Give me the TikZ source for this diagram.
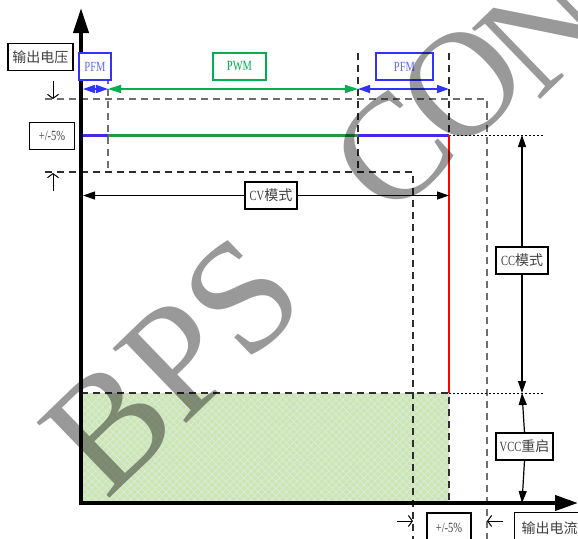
\documentclass[tikz,border=0pt]{standalone}
\usepackage{fontspec}
\setmainfont[FakeStretch=0.75]{Liberation Serif}
\newfontfamily\cjk{Noto Sans CJK SC}
\newfontfamily\wmfont{Liberation Serif}
\usetikzlibrary{arrows.meta,patterns.meta}
\definecolor{pfmblue}{RGB}{50,50,255}
\definecolor{lineblue}{RGB}{70,40,230}
\definecolor{pwmgreen}{RGB}{0,176,80}
\definecolor{linegreen}{RGB}{40,150,60}
\definecolor{hatchbg}{RGB}{204,230,178}
\definecolor{hatchln}{RGB}{220,234,222}
\definecolor{dashgrey}{RGB}{110,110,110}
\definecolor{dashdark}{RGB}{45,45,45}
\tikzset{
  lbl/.style={draw, line width=1.2pt, fill=white, inner sep=0pt, minimum height=27pt,
    text=black!75, font=\fontsize{14}{16}\selectfont},
  dashg/.style={dashgrey, line width=1.2pt, dash pattern=on 7pt off 5pt},
  dashk/.style={dashdark, line width=1.1pt, dash pattern=on 7pt off 5pt},
  dotk/.style={black, line width=0.8pt, dash pattern=on 2pt off 2pt},
  axis/.style={line width=4pt, {Triangle[length=25pt,width=15pt]}-{Triangle[length=23pt,width=15pt]}},
  barrow/.style={pfmblue, line width=1.5pt, {Triangle[length=12pt,width=8pt]}-{Triangle[length=12pt,width=8pt]}},
  garrow/.style={pwmgreen, line width=1.5pt, {Triangle[length=13pt,width=8pt]}-{Triangle[length=13pt,width=8pt]}},
  karrow/.style={black, line width=1.2pt, -{Triangle[length=12pt,width=8pt]}},
  tick/.style={black, line width=1pt, -{Straight Barb[length=4pt,width=11pt]}},
  wmark/.style={rotate=44, inner sep=0pt, text=black, opacity=0.4,
    font=\wmfont\fontsize{150}{150}\selectfont}
}
\begin{document}
\begin{tikzpicture}[x=1pt,y=-1pt]
  \useasboundingbox (0,0) rectangle (578,538);
  % 坐标点
  \coordinate (O) at (81,503);
  \coordinate (Y) at (81,8);
  \coordinate (X) at (578,503);
  \coordinate (A) at (449,135); % 恒压转恒流
  \coordinate (B) at (449,393); % 重启点
  \coordinate (R) at (81,393);
  % 绿色网格区域
  \fill[hatchbg] (O) rectangle (B);
  \fill[pattern={Lines[angle=45,distance=5pt,line width=0.7pt]}, pattern color=hatchln] (O) rectangle (B);
  \fill[pattern={Lines[angle=-45,distance=5pt,line width=0.7pt]}, pattern color=hatchln] (O) rectangle (B);
  \draw[dashk] (R) -- (B) -- (449,503);
  % 虚线
  \draw[dashg] (45,99) -- (487,99) -- (487,540);
  \draw[dashk] (45,172) -- (413,172) -- (413,540);
  \draw[dashg] (108,53) -- (108,172);
  \draw[dashk] (358,53) -- (358,172);
  \draw[dashk] (449,53) -- (A);
  \draw[dotk] (A) -- (543,135);
  \draw[dotk] (B) -- (543,393);
  % 输出特性
  \draw[lineblue, line width=3pt] (81,135) -- (108,135);
  \draw[linegreen, line width=3pt] (108,135) -- (358,135);
  \draw[lineblue, line width=3pt] (358,135) -- (A);
  \draw[red, line width=2.5pt] (A) -- (B);
  % 坐标轴
  \draw[axis] (Y) -- (O) -- (X);
  % 标注框
  \node[lbl, minimum width=65pt] (vout) at (40.5,57) {\cjk 输出电压};
  \node[lbl, minimum width=45pt] (tolv) at (52,136) {+/-5\%};
  \node[lbl, draw=pfmblue, text=pfmblue!75, minimum width=32pt] (pfmL) at (95,66.5) {PFM};
  \node[lbl, draw=pwmgreen, text=pwmgreen, minimum width=53pt] (pwm) at (239.5,66.5) {PWM};
  \node[lbl, draw=pfmblue, text=pfmblue!75, minimum width=57pt] (pfmR) at (404.5,66.5) {PFM};
  \node[lbl, minimum width=52pt] (cv) at (271,195.5) {CV{\cjk 模式}};
  \node[lbl, minimum width=52pt] (cc) at (522,260.5) {CC{\cjk 模式}};
  \node[lbl, minimum width=57pt] (vcc) at (524.5,446.5) {VCC{\cjk 重启}};
  \node[lbl, minimum width=44pt, minimum height=30pt] (toli) at (449,528) {+/-5\%};
  \node[lbl, minimum width=70pt, minimum height=32pt, anchor=north west] (iout) at (514,512) {\hspace*{6pt}\cjk 输出电流\hspace*{6pt}};
  % 模式箭头
  \coordinate (p0) at (83,89);
  \coordinate (p1) at (108,89);
  \coordinate (p2) at (358,89);
  \coordinate (p3) at (449,89);
  \draw[barrow] (p0) -- (p1);
  \draw[garrow] (p1) -- (p2);
  \draw[barrow] (p2) -- (p3);
  \draw[karrow] (cv.west) -- (83,195.5);
  \draw[karrow] (cv.east) -- (449,195.5);
  \draw[karrow] (cc.north) -- (522,135);
  \draw[karrow] (cc.south) -- (522,393);
  \draw[karrow] (vcc.north) -- (522,393);
  \draw[karrow] (vcc.south) -- (522,503);
  % 容差小箭头
  \draw[tick] (53,81) -- (53,99);
  \draw[tick] (53,191) -- (53,173);
  \draw[tick] (397,521) -- (413,521);
  \draw[tick] (503,521) -- (487,521);
  % 水印
  \begin{scope}
    \clip (0,0) rectangle (578,538);
    \node[wmark, anchor=base west, font=\wmfont\fontsize{160}{160}\selectfont] (wm1) at (106,502) {BPS};
    \node[wmark] (wmC) at (392,152) {C};
    \node[wmark] (wmO) at (462,85) {O};
    \node[wmark] (wmN) at (542,30) {N};
  \end{scope}
\end{tikzpicture}
\end{document}
